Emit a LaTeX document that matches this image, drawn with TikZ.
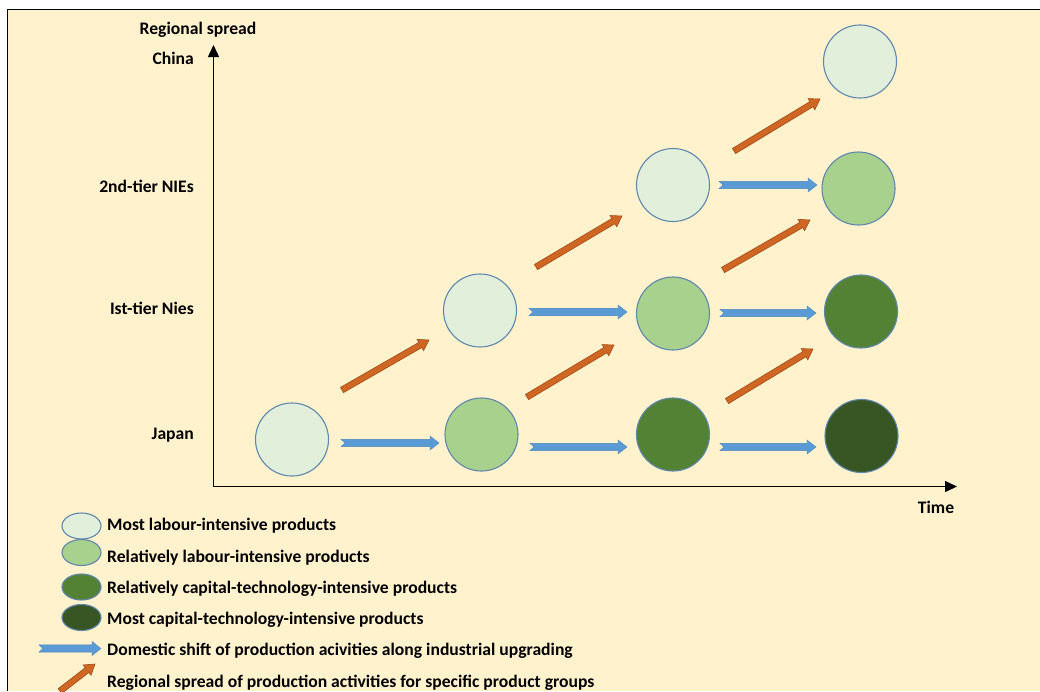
\documentclass[tikz,border=0pt]{standalone}
\usepackage{fontspec}
\setmainfont{Carlito}
\usetikzlibrary{calc,arrows.meta,shapes.geometric}

\definecolor{paper}{HTML}{FFF2CC}
\definecolor{gA}{HTML}{E2EFDA}
\definecolor{gB}{HTML}{A9D18E}
\definecolor{gC}{HTML}{548235}
\definecolor{gD}{HTML}{375623}
\definecolor{rim}{HTML}{5F86AD}
\definecolor{shiftblue}{HTML}{5B9BD5}
\definecolor{shiftblueedge}{HTML}{4A86C0}
\definecolor{spreadorange}{HTML}{CF6624}
\definecolor{spreadedge}{HTML}{A24C14}

% block arrow: #1 style, #2 tail, #3 tip, #4 half shaft width,
% #5 half head width, #6 head length, #7 tail notch depth
\newcommand\blockarrow[7]{%
  \coordinate (ba-p) at ($(#3)!#6!(#2)$);
  \path[#1] ($(#2)!#4!90:(#3)$) -- ($(#2)!#7!(#3)$) -- ($(#2)!#4!-90:(#3)$)
    -- ($(ba-p)!#4!-90:(#3)$) -- ($(ba-p)!#5!-90:(#3)$) -- (#3)
    -- ($(ba-p)!#5!90:(#3)$) -- ($(ba-p)!#4!90:(#3)$) -- cycle;}
\newcommand\shiftarrow[2]{\blockarrow{shiftstyle}{#1}{#2}{3.6pt}{7pt}{9pt}{4pt}}
\newcommand\spreadarrow[2]{\blockarrow{spreadstyle}{#1}{#2}{3pt}{6.5pt}{10pt}{0pt}}

\tikzset{
  txt/.style={font=\bfseries\fontsize{17.6}{20}\selectfont, inner sep=0pt,
    text height=13.4pt, text depth=2pt},
  prod/.style={circle, draw=rim, line width=1.1pt, minimum size=73pt, inner sep=0pt},
  key/.style={ellipse, draw=rim, line width=1.1pt, minimum width=39pt, minimum height=26pt, inner sep=0pt},
  shiftstyle/.style={fill=shiftblue, draw=shiftblueedge, line width=0.4pt, line join=miter},
  spreadstyle/.style={fill=spreadorange, draw=spreadedge, line width=0.6pt, line join=miter},
  axis/.style={line width=1.3pt, -{Triangle[width=11pt,length=12pt]}}
}

\begin{document}
\begin{tikzpicture}[x=1pt,y=-1pt]
\useasboundingbox (0,0) rectangle (1040,691);
\fill[white] (0,0) rectangle (1040,691);
\fill[paper] (7.5,9.5) rectangle (1040,691);
\draw[line width=1.5pt] (7.5,691) -- (7.5,9.5) -- (1040,9.5);

% axes
\coordinate (origin) at (213.5,486.5);
\coordinate (ytip) at (213.5,45);
\coordinate (xtip) at (957,486.5);
\draw[axis] (origin) -- (ytip);
\draw[axis] (origin) -- (xtip);
\node[txt] (ylab) at (198,28.5) {Regional spread};
\node[txt] (xlab) at (936,507.5) {Time};
\node[txt, anchor=east] (rChina) at (194,59) {China};
\node[txt, anchor=east] (rNIE2) at (194,186.5) {2nd-tier NIEs};
\node[txt, anchor=east] (rNIE1) at (194,308.5) {Ist-tier Nies};
\node[txt, anchor=east] (rJapan) at (194,433.5) {Japan};

% product circles
\node[prod, fill=gA] (j1) at (292,439.5) {};
\node[prod, fill=gB] (j2) at (481.5,434.5) {};
\node[prod, fill=gC] (j3) at (673,434.5) {};
\node[prod, fill=gD] (j4) at (861.5,436) {};
\node[prod, fill=gA] (a1) at (480,310.5) {};
\node[prod, fill=gB] (a2) at (673,313.5) {};
\node[prod, fill=gC] (a3) at (861,311.5) {};
\node[prod, fill=gA] (b1) at (673,185) {};
\node[prod, fill=gB] (b2) at (858.5,188.5) {};
\node[prod, fill=gA] (c1) at (860,61.5) {};

% domestic shifts
\coordinate (s1t) at (341,443); \coordinate (s1h) at (439,443);
\coordinate (s2t) at (530,447); \coordinate (s2h) at (627,447);
\coordinate (s3t) at (720,447); \coordinate (s3h) at (816,447);
\coordinate (s4t) at (529,312); \coordinate (s4h) at (627,312);
\coordinate (s5t) at (720,313); \coordinate (s5h) at (816,313);
\coordinate (s6t) at (719,185); \coordinate (s6h) at (817,185);
\shiftarrow{s1t}{s1h}
\shiftarrow{s2t}{s2h}
\shiftarrow{s3t}{s3h}
\shiftarrow{s4t}{s4h}
\shiftarrow{s5t}{s5h}
\shiftarrow{s6t}{s6h}

% regional spreads
\coordinate (r1t) at (342,390); \coordinate (r1h) at (429,340);
\coordinate (r2t) at (536,267); \coordinate (r2h) at (622,216);
\coordinate (r3t) at (734,151); \coordinate (r3h) at (820,99);
\coordinate (r4t) at (527,397); \coordinate (r4h) at (614,345);
\coordinate (r5t) at (723,270); \coordinate (r5h) at (810,220);
\coordinate (r6t) at (727,401); \coordinate (r6h) at (813,349);
\spreadarrow{r1t}{r1h}
\spreadarrow{r2t}{r2h}
\spreadarrow{r3t}{r3h}
\spreadarrow{r4t}{r4h}
\spreadarrow{r5t}{r5h}
\spreadarrow{r6t}{r6h}

% legend
\node[key, fill=gA] (k1) at (81.5,526) {};
\node[key, fill=gB] (k2) at (81.5,552.5) {};
\node[key, fill=gC] (k3) at (81.5,587) {};
\node[key, fill=gD] (k4) at (81.5,617.5) {};
\node[txt, anchor=west] (t1) at (107,525) {Most labour-intensive products};
\node[txt, anchor=west] (t2) at (107,556.5) {Relatively labour-intensive products};
\node[txt, anchor=west] (t3) at (107,587.5) {Relatively capital-technology-intensive products};
\node[txt, anchor=west] (t4) at (107,619) {Most capital-technology-intensive products};
\node[txt, anchor=west] (t5) at (107,649.5) {Domestic shift of production acivities along industrial upgrading};
\node[txt, anchor=west] (t6) at (107,681.5) {Regional spread of production activities for specific product groups};
\coordinate (ks-t) at (39,648.5); \coordinate (ks-h) at (101,648.5);
\shiftarrow{ks-t}{ks-h}
\coordinate (kr-t) at (60,691); \coordinate (kr-h) at (95,664);
\spreadarrow{kr-t}{kr-h}
\end{tikzpicture}
\end{document}
